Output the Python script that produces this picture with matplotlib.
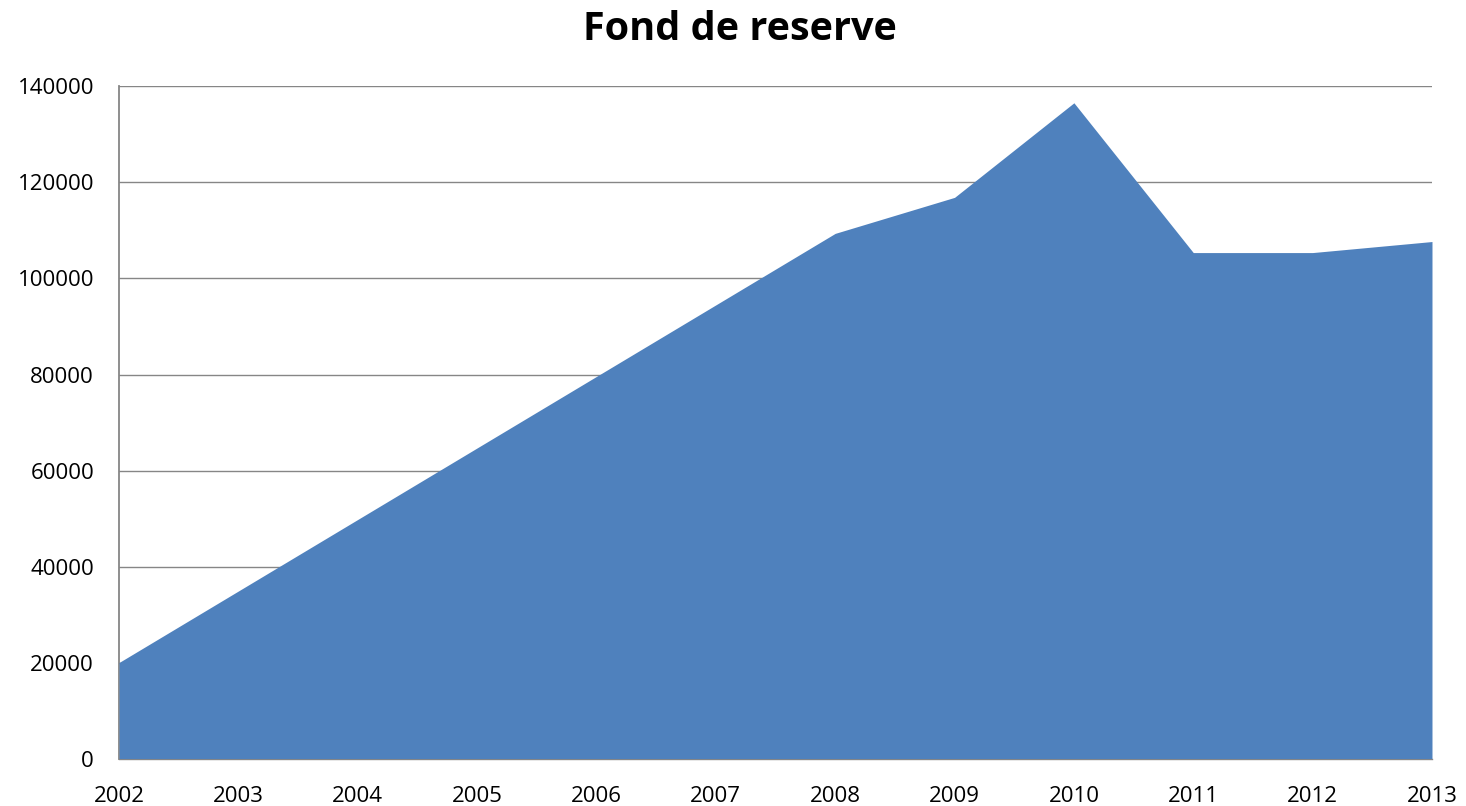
import matplotlib.pyplot as plt
from matplotlib.ticker import MultipleLocator

years = [2002, 2003, 2004, 2005, 2006, 2007, 2008, 2009, 2010, 2011, 2012, 2013]
fond = [20000, 34900, 49800, 64700, 79600, 94500, 109400, 116900, 136600, 105400, 105400, 107700]
title = "Fond de reserve"


def main():
    plt.rcParams["font.family"] = ["Open Sans", "DejaVu Sans"]

    fig = plt.figure(figsize=(14.66, 8.06), dpi=100)
    ax = fig.add_axes([0.0812, 0.0589, 0.8956, 0.8338])

    ax.fill_between(years, fond, 0, color="#4F81BD", linewidth=0, zorder=3)

    ax.set_xlim(years[0], years[-1])
    ax.set_ylim(0, 140000)
    ax.set_xticks(years)
    ax.set_xticklabels([str(y) for y in years])
    ax.yaxis.set_major_locator(MultipleLocator(20000))
    ax.tick_params(axis="both", labelsize=16, length=0)
    ax.tick_params(axis="y", pad=18)
    ax.tick_params(axis="x", pad=20)

    ax.grid(axis="y", color="#868686", linewidth=1.0)
    ax.set_axisbelow(True)
    for side in ("top", "right"):
        ax.spines[side].set_visible(False)
    ax.spines["left"].set_color("#868686")
    ax.spines["left"].set_linewidth(1.3)
    ax.spines["bottom"].set_color("#868686")
    ax.spines["bottom"].set_linewidth(1.0)

    fig.text(0.505, 0.964, title, ha="center", va="center",
             fontsize=28.5, fontweight="bold")

    fig.savefig("out.png", dpi=100)


if __name__ == "__main__":
    main()
